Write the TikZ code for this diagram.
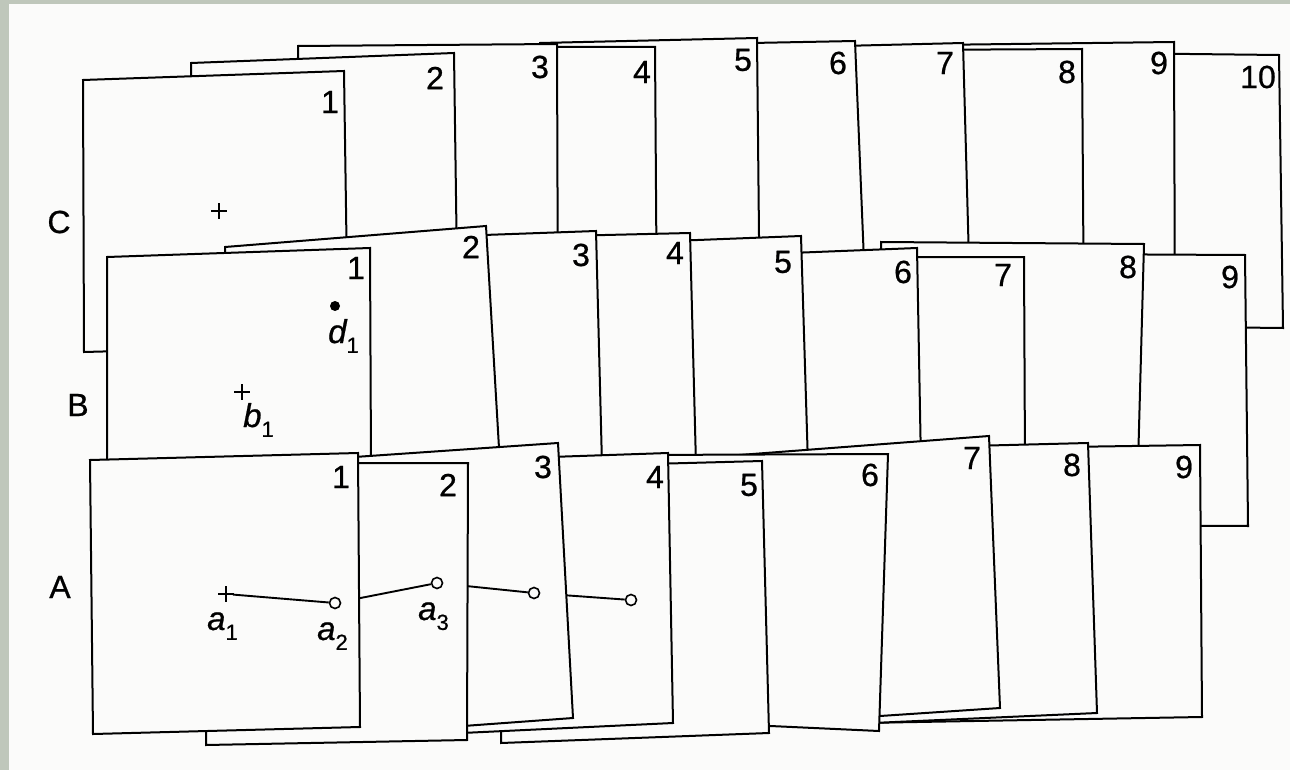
\documentclass[tikz,border=0pt]{standalone}
\usepackage{fontspec}
\setmainfont{Liberation Sans}
\newfontfamily\numfont{Liberation Sans}[FakeBold=0.7]
\newfontfamily\itlfont{Liberation Sans Italic}[FakeBold=0.7]
\usetikzlibrary{shapes.misc}
\definecolor{paper}{HTML}{FBFBFA}
\definecolor{rim}{HTML}{BFC7BB}
\newcommand\pagequad[4]{\filldraw[sheetbox] #1 -- #2 -- #3 -- #4 -- cycle;}
\newcommand\sublbl[2]{{\itlfont #1}\raisebox{-0.30em}{\numfont\fontsize{22}{22}\selectfont #2}}
\begin{document}
\begin{tikzpicture}[x=1pt,y=-1pt,
  sheetbox/.style={fill=paper,draw=black,line width=2pt,line join=miter},
  num/.style={font=\numfont\fontsize{32}{32}\selectfont,inner sep=0pt,anchor=center},
  lbl/.style={font=\fontsize{33}{33}\selectfont,inner sep=0pt,anchor=base west},
  ring/.style={circle,draw=black,fill=paper,line width=1.6pt,inner sep=0pt,minimum size=11pt},
  dot/.style={circle,fill=black,inner sep=0pt,minimum size=10pt},
  plus/.style={cross out,draw=black,line width=2.2pt,rotate=45,inner sep=0pt,minimum size=8.5pt},
  link/.style={line width=1.9pt}]
\useasboundingbox (0,0) rectangle (1290,770);
\fill[rim] (0,0) rectangle (1290,770);
\fill[paper] (9,4) rectangle (1290,770);

% ---------------- stack C ----------------
\pagequad{(1100,53)}{(1279,55)}{(1283,328)}{(1100,326)}
\node[num] (c10) at (1258,77) {10};
\pagequad{(930,45)}{(1174,42)}{(1175,335)}{(930,335)}
\node[num] (c9) at (1159,63) {9};
\pagequad{(900,50)}{(1082,49)}{(1084,335)}{(900,335)}
\node[num] (c8) at (1067,72) {8};
\pagequad{(800,47)}{(963,43)}{(971,335)}{(800,335)}
\node[num] (c7) at (945,63) {7};
\pagequad{(700,44)}{(855,41)}{(867,335)}{(700,335)}
\node[num] (c6) at (838,63) {6};
\pagequad{(540,43)}{(757,38)}{(760,335)}{(540,335)}
\node[num] (c5) at (743,60) {5};
\pagequad{(500,47)}{(655,47)}{(657,335)}{(500,335)}
\node[num] (c4) at (642,72) {4};
\pagequad{(298,46)}{(557,44)}{(558,335)}{(298,335)}
\node[num] (c3) at (540,67) {3};
\pagequad{(191,63)}{(454,53)}{(458,340)}{(191,340)}
\node[num] (c2) at (435,78) {2};
\pagequad{(83,80)}{(344,71)}{(348,345)}{(84,352)}
\node[num] (c1) at (330,102) {1};
\node[plus] (cp) at (219,211) {};
\node[num] (labC) at (59,222) {C};

% ---------------- stack B ----------------
\pagequad{(1050,254)}{(1245,255)}{(1248,526)}{(1050,525)}
\node[num] (b9) at (1230,277) {9};
\pagequad{(881,242)}{(1144,244)}{(1138,465)}{(881,465)}
\node[num] (b8) at (1128,267) {8};
\pagequad{(840,257)}{(1024,257)}{(1025,465)}{(840,465)}
\node[num] (b7) at (1003,275) {7};
\pagequad{(740,255)}{(917,248)}{(921,465)}{(740,465)}
\node[num] (b6) at (903,272) {6};
\pagequad{(620,243)}{(801,236)}{(808,465)}{(620,465)}
\node[num] (b5) at (783,262) {5};
\pagequad{(520,237)}{(690,233)}{(696,465)}{(520,465)}
\node[num] (b4) at (675,253) {4};
\pagequad{(400,238)}{(596,231)}{(602,465)}{(400,465)}
\node[num] (b3) at (581,255) {3};
\pagequad{(225,247)}{(486,226)}{(500,465)}{(225,465)}
\node[num] (b2) at (471,247) {2};
\pagequad{(107,257)}{(370,248)}{(371,465)}{(107,465)}
\node[num] (b1) at (356,268) {1};
\node[dot] (d1) at (335,306) {};
\node[lbl] (d1l) at (328,343) {\sublbl{d}{1}};
\node[plus] (b1p) at (242,392) {};
\node[lbl] (b1l) at (243,427) {\sublbl{b}{1}};
\node[num] (labB) at (78,405) {B};

% ---------------- stack A ----------------
\pagequad{(860,450)}{(1200,445)}{(1202,717)}{(860,723)}
\node[num] (n9) at (1184,467) {9};
\pagequad{(850,449)}{(1088,443)}{(1097,713)}{(850,724)}
\node[num] (n8) at (1072,465) {8};
\pagequad{(700,458)}{(989,436)}{(1000,708)}{(700,728)}
\node[num] (n7) at (972,458) {7};
\pagequad{(640,455)}{(888,454)}{(879,731)}{(640,720)}
\node[num] (n6) at (870,475) {6};
\pagequad{(501,468)}{(762,461)}{(769,733)}{(501,743)}
\node[num] (n5) at (749,485) {5};
% page 4 and the point a5
\pagequad{(462,460)}{(668,453)}{(673,723)}{(462,733)}
\node[num] (n4) at (655,477) {4};
\node[ring] (a5) at (631,600) {};
\node[ring] (a4) at (534,593) {};
\draw[link] (a4) -- (a5);
% page 3 and the point a4
\pagequad{(340,458)}{(558,443)}{(573,718)}{(340,735)}
\node[num] (n3) at (543,467) {3};
\node[ring] (a3) at (437,583) {};
\node[ring] (a4b) at (534,593) {};
\draw[link] (a3) -- (a4b);
% page 2 and the point a3
\pagequad{(206,463)}{(468,463)}{(467,740)}{(206,745)}
\node[num] (n2) at (448,485) {2};
\node[ring] (a2) at (335,603) {};
\node[ring] (a3b) at (437,583) {};
\draw[link] (a2) -- (a3b);
\node[lbl] (a3l) at (418,620) {\sublbl{a}{3}};
% page 1
\pagequad{(90,460)}{(358,453)}{(360,727)}{(93,734)}
\node[num] (n1) at (341,477) {1};
\node[plus] (a1) at (226,594) {};
\node[ring] (a2b) at (335,603) {};
\draw[link] (a1) -- (a2b);
\node[lbl] (a1l) at (207,630) {\sublbl{a}{1}};
\node[lbl] (a2l) at (317,640) {\sublbl{a}{2}};
\node[num] (labA) at (60,587) {A};
\end{tikzpicture}
\end{document}
